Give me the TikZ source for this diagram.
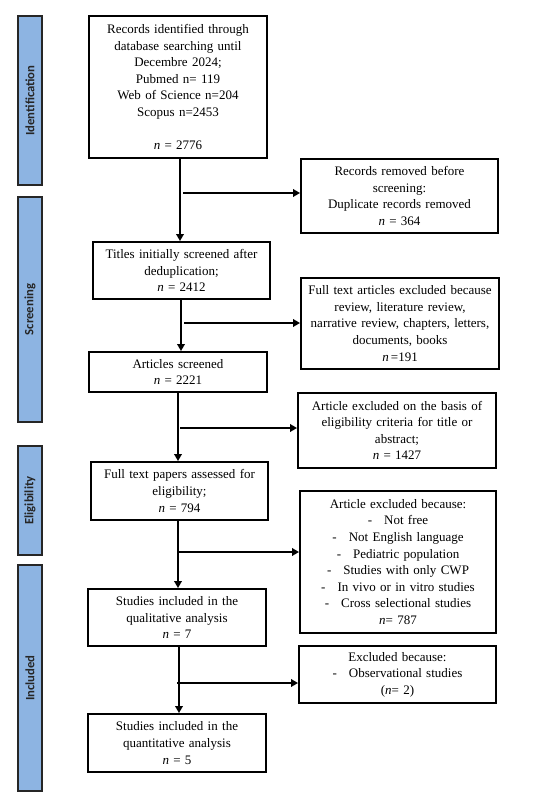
\documentclass[tikz,border=0pt]{standalone}
\usepackage{fontspec}
\setmainfont{Liberation Serif}
\newfontfamily\phasefont{Carlito}
\usetikzlibrary{arrows.meta}
\definecolor{phaseblue}{HTML}{8DB4E2}
\begin{document}
\begin{tikzpicture}[x=1pt,y=-1pt,
  box/.style={draw=black, line width=1.9pt, align=center, inner sep=2pt,
    font=\fontsize{13}{16.6}\selectfont},
  phase/.style={draw=black!85, line width=1.9pt, fill=phaseblue, inner sep=0pt,
    rotate=90, font=\phasefont\bfseries\fontsize{12.7}{14}\selectfont, text=black!85},
  arr/.style={line width=1.9pt, -{Triangle[length=7pt,width=7.5pt]}}]
\useasboundingbox (0,0) rectangle (548,798);

% phase bars
\node[phase, minimum width=169pt, minimum height=24pt] (p1) at (30,100.5) {Identification};
\node[phase, minimum width=225pt, minimum height=24pt] (p2) at (30,309.5) {Screening};
\node[phase, minimum width=109pt, minimum height=24pt] (p3) at (30,500.5) {Eligibility};
\node[phase, minimum width=226pt, minimum height=24pt] (p4) at (30,678) {Included};

% main boxes
\node[box, minimum width=178pt, minimum height=142pt, text width=172pt] (b1) at (178,87)
  {Records identified through\\ database searching until\\ Decembre 2024;\\ Pubmed n= 119\\
   Web of Science n=204\\ Scopus n=2453\\[16.6pt] \textit{n} = 2776};
\node[box, minimum width=177pt, minimum height=57pt, text width=171pt] (b2) at (181.5,270.5)
  {Titles initially screened after\\ deduplication;\\ \textit{n} = 2412};
\node[box, minimum width=178pt, minimum height=40pt, text width=172pt] (b3) at (178,372)
  {Articles screened\\ \textit{n} = 2221};
\node[box, minimum width=177pt, minimum height=58pt, text width=171pt] (b4) at (179.5,491)
  {Full text papers assessed for\\ eligibility;\\ \textit{n} = 794};
\node[box, minimum width=178pt, minimum height=57pt, text width=172pt] (b5) at (177,617.5)
  {Studies included in the\\ qualitative analysis\\ \textit{n} = 7};
\node[box, minimum width=178pt, minimum height=58pt, text width=172pt] (b6) at (177,743)
  {Studies included in the\\ quantitative analysis\\ \textit{n} = 5};

% side boxes
\node[box, minimum width=197pt, minimum height=74pt, text width=191pt] (s1) at (399.5,196)
  {Records removed before\\ screening:\\ Duplicate records removed\\ \textit{n} = 364};
\node[box, minimum width=198pt, minimum height=91pt, text width=194pt] (s2) at (400,323.5)
  {Full text articles excluded because\\ review, literature review,\\ narrative review, chapters, letters,\\ documents, books\\ \textit{n}\,=191};
\node[box, minimum width=198pt, minimum height=75pt, text width=192pt] (s3) at (397,430.5)
  {Article excluded on the basis of\\ eligibility criteria for title or\\ abstract;\\ \textit{n} = 1427};
\node[box, minimum width=196pt, minimum height=142pt, text width=190pt] (s4) at (398,562)
  {Article excluded because:\\
   -\hspace{12pt}Not free\\
   -\hspace{12pt}Not English language\\
   -\hspace{12pt}Pediatric population\\
   -\hspace{12pt}Studies with only CWP\\
   -\hspace{12pt}In vivo or in vitro studies\\
   -\hspace{12pt}Cross selectional studies\\
   \textit{n}= 787};
\node[box, minimum width=197pt, minimum height=57pt, text width=191pt] (s5) at (397.5,674.5)
  {Excluded because:\\ -\hspace{12pt}Observational studies\\ (\textit{n}= 2)};

% x positions of the vertical flow
\coordinate (v1) at (180,0);
\coordinate (v2) at (181,0);
\coordinate (v3) at (178,0);
\coordinate (v4) at (178,0);
\coordinate (v5) at (179,0);
% junctions where the side arrows start
\coordinate (j1) at (183,193);
\coordinate (j2) at (184,323);
\coordinate (j3) at (180,428);
\coordinate (j4) at (178,552);
\coordinate (j5) at (177,683);

% vertical arrows
\draw[arr] (b1.south -| v1) -- (b2.north -| v1);
\draw[arr] (b2.south -| v2) -- (b3.north -| v2);
\draw[arr] (b3.south -| v3) -- (b4.north -| v3);
\draw[arr] (b4.south -| v4) -- (b5.north -| v4);
\draw[arr] (b5.south -| v5) -- (b6.north -| v5);

% horizontal arrows
\draw[arr] (j1) -- (j1 -| s1.west);
\draw[arr] (j2) -- (j2 -| s2.west);
\draw[arr] (j3) -- (j3 -| s3.west);
\draw[arr] (j4) -- (j4 -| s4.west);
\draw[arr] (j5) -- (j5 -| s5.west);
\end{tikzpicture}
\end{document}
